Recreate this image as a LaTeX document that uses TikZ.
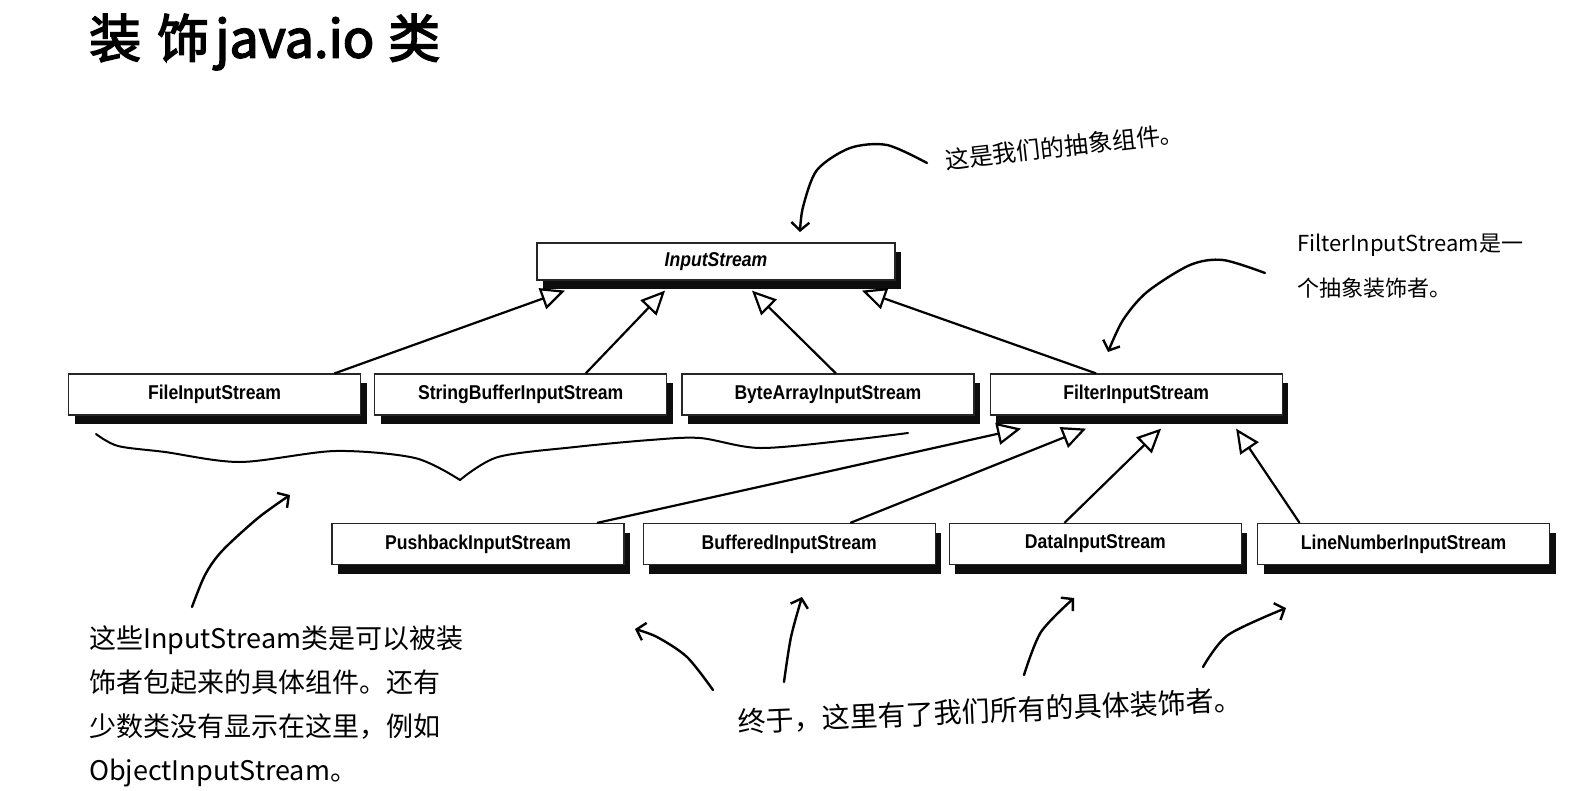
\documentclass[tikz,border=0pt]{standalone}
\usepackage{fontspec}
\usepackage{tikz}
\usetikzlibrary{positioning}
\usetikzlibrary{shadows}
\usetikzlibrary{arrows.meta}
\newfontfamily\cjk{Noto Sans CJK SC}[AutoFakeBold=3]
\newfontfamily\clsfont{Liberation Sans}[FakeStretch=0.88]

\tikzset{
  cls/.style={draw=black!85, line width=1.2pt, fill=white, minimum width=292pt,
    minimum height=41pt, inner sep=0pt, font=\clsfont\bfseries\fontsize{20}{24}\selectfont,
    drop shadow={shadow xshift=6pt, shadow yshift=-9pt, fill=black, opacity=0.95}},
  isa/.style={line width=2.2pt, -{Triangle[length=24pt, width=22pt, fill=white]}},
  hand/.style={line width=2.4pt, line cap=round, -{Straight Barb[length=8pt, width=18pt]}},
  note/.style={font=\cjk\fontsize{#1}{44}\selectfont, inner sep=0pt}
}

\begin{document}
\begin{tikzpicture}[x=1pt, y=-1pt]
\fill[white] (0,0) rectangle (1585,790);
\useasboundingbox (0,0) rectangle (1585,790);

\node[anchor=west, inner sep=0pt, font=\cjk\bfseries\fontsize{52}{60}\selectfont] (title) at (89,42)
  {装\hspace{16pt}饰\hspace{6pt}java.io\hspace{14pt}类};

% classes
\node[cls, minimum width=358pt, minimum height=37pt,
  font=\clsfont\bfseries\itshape\fontsize{20}{24}\selectfont] (in) at (716,261.5) {InputStream};

\node[cls] (file) at (214.5,394.5) {FileInputStream};
\node[cls, right=13pt of file] (sbuf) {StringBufferInputStream};
\node[cls, right=14pt of sbuf] (barr) {ByteArrayInputStream};
\node[cls, right=15pt of barr] (filt) {FilterInputStream};

\node[cls] (push) at (478,544) {PushbackInputStream};
\node[cls, right=18pt of push] (buff) {BufferedInputStream};
\node[cls, right=13pt of buff] (data) {DataInputStream};
\node[cls, right=15pt of data] (line) {LineNumberInputStream};

% inheritance
\draw[isa] ([xshift=120pt]file.north) -- ([xshift=-151pt, yshift=-10pt]in.south);
\draw[isa] ([xshift=65pt]sbuf.north) -- ([xshift=-51pt, yshift=-10pt]in.south);
\draw[isa] ([xshift=8pt]barr.north) -- ([xshift=36pt, yshift=-10pt]in.south);
\draw[isa] ([xshift=-40pt]filt.north) -- ([xshift=146pt, yshift=-10pt]in.south);

\draw[isa] ([xshift=119pt]push.north) -- ([xshift=-115pt, yshift=-13pt]filt.south);
\draw[isa] ([xshift=61pt]buff.north) -- ([xshift=-50pt, yshift=-13pt]filt.south);
\draw[isa] ([xshift=-31pt]data.north) -- ([xshift=25pt, yshift=-13pt]filt.south);
\draw[isa] ([xshift=-104pt]line.north) -- ([xshift=100pt, yshift=-13pt]filt.south);

% notes
\node[note=24, anchor=west, rotate=6.5] (abs) at (945,160) {这是我们的抽象组件。};
\node[note=22, anchor=west, align=left, font=\cjk\fontsize{22}{45}\selectfont] (dec) at (1297,266)
  {FilterInputStream是一\\个抽象装饰者。};
\node[note=27, anchor=west, align=left] (conc) at (89,706)
  {这些InputStream类是可以被装\\饰者包起来的具体组件。还有\\少数类没有显示在这里，例如\\ObjectInputStream。};
\node[note=28, anchor=west, rotate=2.5] (decs) at (738,722) {终于，这里有了我们所有的具体装饰者。};

% pointers
\draw[hand] plot[smooth] coordinates {(927,163) (887,145) (850,148) (817,170) (803,207) (800,232)};
\draw[hand] plot[smooth] coordinates {(1265,273) (1223,260) (1190,265) (1147,292) (1123,320) (1108,352)};
\draw[hand] plot[smooth] coordinates {(192,607) (205,575) (222,551) (258,518) (290,495)};
\draw[hand] plot[smooth] coordinates {(713,690) (687,657) (657,637) (635,629)};
\draw[hand] plot[smooth] coordinates {(784,682) (791,637) (802,597)};
\draw[hand] plot[smooth] coordinates {(1024,675) (1041,632) (1074,598)};
\draw[hand] plot[smooth] coordinates {(1203,667) (1228,635) (1286,608)};

% brace
\draw[line width=2pt, line cap=round] plot[smooth] coordinates
  {(96,434) (118,446) (165,452) (240,462) (335,451) (415,458) (460,480)};
\draw[line width=2pt, line cap=round] plot[smooth] coordinates
  {(460,480) (498,457) (575,447) (650,440) (700,438) (760,448) (850,440) (908,433)};
\end{tikzpicture}
\end{document}
